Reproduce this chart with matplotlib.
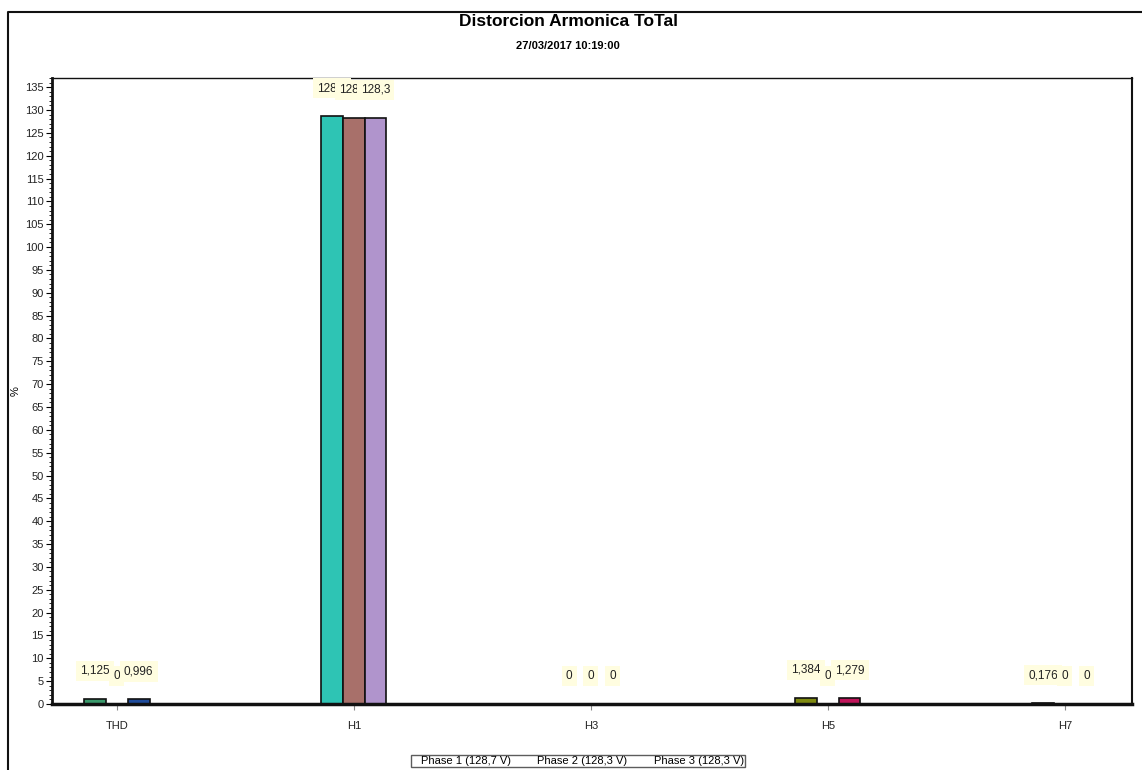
import numpy as np
import matplotlib
matplotlib.use('Agg')
import matplotlib.pyplot as plt
from matplotlib.lines import Line2D
from matplotlib.ticker import MultipleLocator

plt.rcParams['font.family'] = ['Liberation Sans', 'DejaVu Sans']

# data
categories = ['THD', 'H1', 'H3', 'H5', 'H7']
phase1 = [1.125, 128.7, 0, 1.384, 0.176]
phase2 = [0, 128.3, 0, 0, 0]
phase3 = [0.996, 128.3, 0, 1.279, 0]
series_names = ['Phase 1 (128,7 V)', 'Phase 2 (128,3 V)', 'Phase 3 (128,3 V)']

# each bar has its own colour in the original
colors = [
    ['#3a9a6c', '#c8b040', '#1f4c9c'],   # THD
    ['#2ec4b4', '#a8706a', '#b094cc'],   # H1
    ['#d08040', '#6080c0', '#60a060'],   # H3
    ['#7f8a10', '#406090', '#c0145a'],   # H5
    ['#d06030', '#8060a0', '#409090'],   # H7
]

def fmt(v):
    return ('%g' % v).replace('.', ',')

fig = plt.figure(figsize=(11.42, 7.70), dpi=100)
ax = fig.add_axes([52 / 1142, 1 - 704 / 770, 1080 / 1142, 626 / 770])

x = np.arange(len(categories))
w = 0.0916
data = [phase1, phase2, phase3]
z = 10
for i in range(len(categories)):
    for j in range(3):
        v = data[j][i]
        xi = x[i] + (j - 1) * w
        ax.bar(xi, v, width=w, color=colors[i][j], edgecolor='#111111', linewidth=1.2)
        ax.text(xi, v + 6.1, fmt(v), ha='center', va='center', fontsize=8.5, color='#222222',
                zorder=z, bbox=dict(boxstyle='square,pad=0.35', facecolor='#fffde0', edgecolor='none'))
        z += 1

ax.set_xlim(-0.274, 4.283)
ax.set_ylim(0, 137)
ax.set_xticks(x)
ax.set_xticklabels(categories, fontsize=8, color='#222222')
ax.yaxis.set_major_locator(MultipleLocator(5))
ax.yaxis.set_minor_locator(MultipleLocator(1))
ax.tick_params(axis='y', labelsize=8, labelcolor='#222222', length=4, width=0.8, pad=2)
ax.tick_params(axis='y', which='minor', length=2, width=0.6)
ax.tick_params(axis='x', length=4, width=0.8, pad=8, color='#888888')
ax.spines['bottom'].set_linewidth(2.5)
ax.spines['left'].set_linewidth(2)
ax.spines['top'].set_linewidth(1)
ax.spines['right'].set_linewidth(1.5)
for s in ax.spines.values():
    s.set_color('#111111')
ax.set_ylabel('%', fontsize=8)
ax.yaxis.set_label_coords(-0.029, 0.5)

fig.text(0.4975, 1 - 22 / 770, 'Distorcion Armonica ToTal', ha='center', va='center',
         fontsize=12.5, fontweight='bold')
fig.text(0.4975, 1 - 46 / 770, '27/03/2017 10:19:00', ha='center', va='center',
         fontsize=8, fontweight='bold')

# outer frame (left and top edges visible)
fig.add_artist(Line2D([8 / 1142, 8 / 1142, 1], [0, 1 - 12 / 770, 1 - 12 / 770],
                      transform=fig.transFigure, color='#111111', linewidth=1.5))

handles = [Line2D([], [], linestyle='none') for _ in series_names]
leg = fig.legend(handles, series_names, loc='upper center', bbox_to_anchor=(0.506, 1 - 755 / 770),
                 ncol=3, fontsize=8, frameon=True, fancybox=False, handlelength=0,
                 handletextpad=0.8, columnspacing=1.6, borderpad=0.1, borderaxespad=0)
leg.get_frame().set_edgecolor('#333333')
leg.get_frame().set_linewidth(1)

fig.savefig('out.png', dpi=100)
